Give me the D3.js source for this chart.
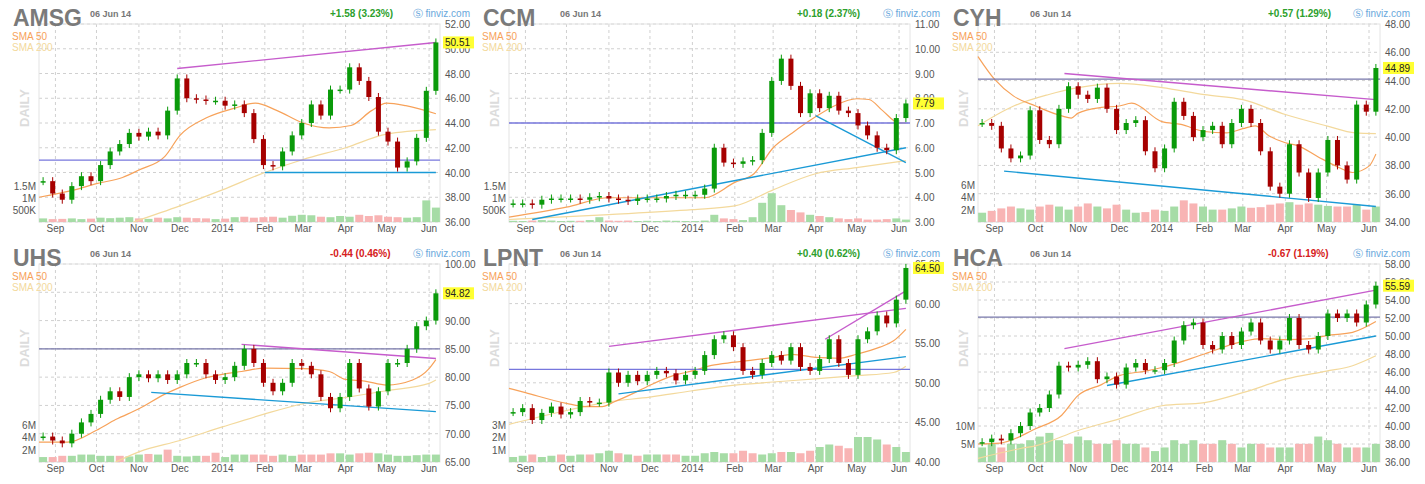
<!DOCTYPE html>
<html>
<head>
<meta charset="utf-8">
<script src="https://cdn.jsdelivr.net/npm/d3@7"></script>
<style>
  body { margin: 0; background: #fff; }
  svg text { font-family: Arial, "Liberation Sans", sans-serif; }
</style>
</head>
<body>
<div id="d3-container"></div>
<script>
// weeks (Friday closes)
var weeks = ['2013-08-23','2013-08-30','2013-09-06','2013-09-13','2013-09-20','2013-09-27',
  '2013-10-04','2013-10-11','2013-10-18','2013-10-25','2013-11-01','2013-11-08','2013-11-15',
  '2013-11-22','2013-11-29','2013-12-06','2013-12-13','2013-12-20','2013-12-27','2014-01-03',
  '2014-01-10','2014-01-17','2014-01-24','2014-01-31','2014-02-07','2014-02-14','2014-02-21',
  '2014-02-28','2014-03-07','2014-03-14','2014-03-21','2014-03-28','2014-04-04','2014-04-11',
  '2014-04-18','2014-04-25','2014-05-02','2014-05-09','2014-05-16','2014-05-23','2014-05-30','2014-06-06'];
var monthTicks = ['2013-09-01','2013-10-01','2013-11-01','2013-12-01','2014-01-01','2014-02-01',
  '2014-03-01','2014-04-01','2014-05-01','2014-06-01'];
var monthLabels = ['Sep','Oct','Nov','Dec','2014','Feb','Mar','Apr','May','Jun'];

var amsgClose = [39.3,38.3,37.8,38.9,39.7,39.3,40.6,41.7,42.3,43.2,42.9,43.3,43.0,45.0,47.6,46.0,45.9,45.8,45.8,45.4,
  45.5,44.8,42.7,40.6,40.5,41.7,43.0,44.0,45.5,44.6,46.7,46.7,48.5,47.4,46.1,43.3,42.5,40.4,40.9,42.8,46.6,50.51];
var amsgVol = [150,120,130,150,120,140,180,160,180,200,150,130,180,150,200,180,160,150,120,140,200,220,180,200,220,
  180,260,300,280,220,200,250,220,300,250,280,220,200,180,200,900,600];
var amsgSma50 = [['2013-08-20',38.0],['2013-09-15',38.6],['2013-10-01',39.1],['2013-10-20',39.6],['2013-11-01',40.2],
  ['2013-11-20',41.3],['2013-12-01',43.0],['2013-12-20',44.4],['2014-01-10',45.2],['2014-01-25',45.6],['2014-02-10',45.0],
  ['2014-03-01',44.0],['2014-03-20',43.6],['2014-04-05',43.8],['2014-04-20',45.0],['2014-05-01',45.6],['2014-05-15',45.4],
  ['2014-06-06',44.75]];
var amsgSma200 = [['2013-10-28',36.0],['2013-12-01',37.3],['2014-01-01',38.6],['2014-02-01',40.0],['2014-03-01',41.05],
  ['2014-04-01',42.0],['2014-05-01',43.1],['2014-06-06',43.46]];
var amsgLines = [
  {c:'#7777dd', p:[['2013-08-20',41.0],['2014-06-09',41.0]]},
  {c:'#1a9ad6', p:[['2014-02-01',40.0],['2014-06-06',40.0]]},
  {c:'#c65ccc', p:[['2013-11-29',48.4],['2014-06-06',50.5]]}];

var ccmClose = [3.75,3.75,3.7,3.9,3.95,3.95,3.95,3.9,4.0,4.05,3.95,3.9,3.85,3.95,3.95,3.95,4.05,4.1,4.1,4.1,
  4.35,6.0,5.4,5.35,5.45,5.5,6.6,8.7,9.6,8.5,7.4,8.2,7.6,8.1,7.5,7.4,6.9,6.5,6.0,5.9,7.2,7.79];
var ccmVol = [50,40,60,80,60,40,50,50,80,200,60,50,60,40,50,40,60,50,40,40,60,300,150,120,80,200,800,1200,700,500,
  400,300,250,200,150,120,150,100,100,120,150,100];
var ccmSma50 = [['2013-08-20',3.2],['2013-10-01',3.6],['2013-11-01',3.98],['2013-12-01',3.98],['2014-01-10',3.98],
  ['2014-02-01',4.6],['2014-02-15',4.95],['2014-03-01',6.0],['2014-03-15',6.6],['2014-04-01',7.25],['2014-04-15',7.7],
  ['2014-05-01',7.98],['2014-05-10',7.95],['2014-05-20',7.5],['2014-06-01',7.0],['2014-06-06',7.0]];
var ccmSma200 = [['2013-08-20',3.1],['2013-11-01',3.3],['2014-01-01',3.5],['2014-02-01',3.65],['2014-03-01',4.3],
  ['2014-04-01',4.95],['2014-05-01',5.2],['2014-06-06',5.48]];
var ccmLines = [
  {c:'#7777dd', p:[['2013-08-20',7.0],['2014-06-09',7.0]]},
  {c:'#1a9ad6', p:[['2013-09-06',3.1],['2014-06-06',6.0]]},
  {c:'#1a9ad6', p:[['2014-04-01',7.3],['2014-06-06',5.4]]}];

var cyhClose = [41.0,40.8,39.2,38.5,38.7,41.9,39.8,39.5,42.0,43.6,43.0,42.7,43.5,42.0,40.5,41.0,41.2,39.0,37.8,39.2,
  42.5,41.5,40.0,40.5,40.8,39.5,41.0,42.0,41.0,39.0,36.5,36.0,39.5,37.5,35.7,37.5,39.8,38.0,37.0,42.3,41.8,44.89];
var cyhVol = [1.5,1.8,2.2,2.5,2.2,2.0,2.5,2.8,2.5,2.0,2.5,3.0,2.5,2.2,2.8,2.0,1.5,1.6,2.0,1.8,2.5,3.5,3.0,2.5,2.0,
  2.0,2.2,2.5,2.3,2.4,2.8,3.0,3.2,2.8,3.0,2.8,2.6,2.5,2.5,2.8,2.0,2.5];
var cyhSma50 = [['2013-08-20',45.7],['2013-09-01',44.1],['2013-09-15',42.9],['2013-10-01',42.2],['2013-10-20',41.5],
  ['2013-10-27',41.35],['2013-11-01',41.7],['2013-11-18',42.1],['2013-12-01',42.2],['2013-12-10',42.4],['2014-01-01',41.1],
  ['2014-01-15',40.9],['2014-02-01',40.4],['2014-02-17',40.3],['2014-03-01',40.6],['2014-03-10',40.8],['2014-03-20',40.1],
  ['2014-04-01',39.6],['2014-04-10',39.4],['2014-04-25',38.6],['2014-05-08',37.95],['2014-05-20',37.5],['2014-06-01',37.95],
  ['2014-06-06',38.8]];
var cyhSma200 = [['2013-08-20',40.8],['2013-09-15',42.2],['2013-10-10',43.0],['2013-11-01',43.5],['2013-12-01',43.8],
  ['2014-01-01',43.5],['2014-02-01',43.0],['2014-03-01',42.65],['2014-04-01',41.6],['2014-05-01',40.8],['2014-05-22',40.3],
  ['2014-06-06',40.25]];
var cyhLines = [
  {c:'#7777aa', p:[['2013-08-20',44.1],['2014-06-09',44.1]]},
  {c:'#1a9ad6', p:[['2013-09-08',37.6],['2014-06-06',35.1]]},
  {c:'#c65ccc', p:[['2013-10-22',44.5],['2014-06-06',42.65]]}];

var uhsClose = [69.5,68.8,68.3,70.0,72.0,73.5,76.0,77.5,76.5,80.0,80.5,79.8,80.5,79.5,80.5,82.5,82.5,80.5,79.5,80.0,
  82.0,85.0,82.5,79.0,77.5,79.0,82.5,82.0,80.5,76.5,74.5,76.5,82.5,78.0,74.8,77.5,82.5,82.5,85.0,89.0,90.0,94.82];
var uhsVol = [0.8,0.8,1.0,1.0,1.2,1.2,1.0,1.0,1.0,0.9,1.2,1.3,1.2,2.0,1.0,0.9,1.0,1.0,1.5,0.8,1.2,1.2,1.2,1.2,1.0,
  1.2,1.0,1.2,1.2,1.2,1.4,1.4,1.2,1.4,1.5,1.4,1.2,1.0,1.0,1.1,1.2,1.2];
var uhsSma50 = [['2013-08-20',68.5],['2013-09-10',68.5],['2013-10-01',70.6],['2013-10-15',72.5],['2013-11-01',74.4],
  ['2013-11-20',77.0],['2013-12-01',78.2],['2013-12-20',79.9],['2014-01-01',80.5],['2014-01-15',81.0],['2014-02-01',81.6],
  ['2014-03-01',81.5],['2014-03-20',81.0],['2014-04-01',79.6],['2014-04-15',79.3],['2014-05-01',78.6],['2014-05-20',79.5],
  ['2014-06-01',81.5],['2014-06-06',83.1]];
var uhsSma200 = [['2013-10-15',65.0],['2013-11-01',66.8],['2013-12-01',68.8],['2014-01-01',71.2],['2014-02-01',73.5],
  ['2014-03-01',75.3],['2014-04-01',76.4],['2014-05-01',77.6],['2014-06-01',78.9],['2014-06-06',79.5]];
var uhsLines = [
  {c:'#7777aa', p:[['2013-08-20',85.0],['2014-06-09',85.0]]},
  {c:'#1a9ad6', p:[['2013-11-10',77.3],['2014-06-06',73.9]]},
  {c:'#c65ccc', p:[['2014-01-15',85.8],['2014-06-06',83.3]]}];

var lpntClose = [46.3,46.8,45.3,46.2,47.0,46.0,46.3,47.7,47.5,47.5,51.3,50.0,51.0,50.2,51.0,51.5,51.2,50.3,51.0,51.5,
  53.5,55.5,56.0,54.5,51.5,51.0,52.5,53.5,52.8,54.5,52.0,51.5,53.0,55.5,52.5,51.0,55.5,56.5,58.5,57.5,60.5,64.5];
var lpntVol = [0.4,0.5,0.6,0.4,0.5,0.6,0.5,0.6,0.6,0.7,0.9,0.7,0.6,0.5,0.6,0.6,0.6,0.6,0.5,0.5,0.7,0.8,0.7,0.7,0.9,
  0.7,0.6,0.7,0.8,0.8,0.7,0.9,1.2,1.4,1.3,1.1,2.0,2.0,1.8,1.4,1.2,0.8];
var lpntSma50 = [['2013-08-20',49.3],['2013-09-01',48.75],['2013-10-01',47.4],['2013-10-15',47.0],['2013-10-27',47.0],
  ['2013-11-05',47.6],['2013-11-18',48.6],['2013-12-01',49.7],['2013-12-18',50.9],['2014-01-01',51.5],['2014-01-15',52.2],
  ['2014-02-01',52.6],['2014-03-01',53.2],['2014-03-15',53.6],['2014-04-01',53.2],['2014-04-18',53.1],['2014-05-01',53.6],
  ['2014-05-18',54.5],['2014-05-28',55.3],['2014-06-06',56.75]];
var lpntSma200 = [['2013-08-20',44.75],['2013-10-01',46.5],['2013-11-01',47.6],['2013-12-01',48.2],['2014-01-01',49.0],
  ['2014-02-01',49.7],['2014-03-01',50.1],['2014-04-01',50.5],['2014-05-01',50.9],['2014-05-28',51.3],['2014-06-06',52.1]];
var lpntLines = [
  {c:'#7777dd', p:[['2013-08-20',51.7],['2014-06-09',51.7]]},
  {c:'#1a9ad6', p:[['2013-11-08',48.6],['2014-06-06',53.3]]},
  {c:'#c65ccc', p:[['2013-11-01',54.6],['2014-06-06',59.4]]},
  {c:'#c65ccc', p:[['2014-04-08',55.5],['2014-06-06',61.6]]}];

var hcaClose = [38.2,38.6,38.4,39.2,40.0,41.5,42.0,43.5,46.7,46.5,46.8,47.2,45.2,45.5,44.6,46.5,47.0,46.2,46.2,47.0,
  49.5,51.2,51.5,49.0,48.5,50.0,49.0,50.5,51.5,49.5,48.5,49.5,52.0,49.0,48.5,50.0,52.5,52.0,52.5,51.5,53.5,55.59];
var hcaVol = [4,5,4,5,5,6,7,8,6,5,7,6,5,5,6,5,5,4,3,4,6,5,6,5,5,6,5,4,5,5,4,4,4,5,5,7,6,5,4,4,4,5];
var hcaSma50 = [['2013-08-20',38.0],['2013-09-05',38.1],['2013-10-01',39.7],['2013-10-20',41.2],['2013-11-01',43.4],
  ['2013-11-18',44.6],['2013-12-01',45.6],['2013-12-20',46.1],['2014-01-01',46.5],['2014-02-01',48.0],['2014-03-01',49.4],
  ['2014-03-15',49.7],['2014-04-01',49.6],['2014-04-20',49.7],['2014-05-01',50.05],['2014-05-20',50.4],['2014-06-06',51.6]];
var hcaSma200 = [['2013-08-20',36.4],['2013-09-20',37.5],['2013-10-01',37.8],['2013-11-01',39.5],['2013-12-01',40.8],
  ['2014-01-01',42.25],['2014-02-01',42.6],['2014-03-01',43.7],['2014-04-01',45.2],['2014-05-01',46.1],['2014-05-20',46.7],
  ['2014-06-06',47.8]];
var hcaLines = [
  {c:'#7777aa', p:[['2013-08-20',52.1],['2014-06-09',52.1]]},
  {c:'#1a9ad6', p:[['2013-11-22',44.5],['2014-06-06',50.0]]},
  {c:'#c65ccc', p:[['2013-10-22',48.6],['2014-06-06',55.1]]}];

var charts = [
  {sym:'AMSG', ox:0, oy:0, left:39, right:440, titleX:13, dateX:90, chg:'+1.58 (3.23%)', up:true, chgX:330,
   dom:[36,52], ticks:d3.range(36,53,2), fmt:'.2f', close:amsgClose, vol:amsgVol, volMax:2500,
   volTicks:[500,1000,1500], volLbl:['500K','1M','1.5M'], s50:amsgSma50, s200:amsgSma200, lines:amsgLines},
  {sym:'CCM', ox:475, oy:0, left:34, right:435, titleX:8, dateX:85, chg:'+0.18 (2.37%)', up:true, chgX:322,
   dom:[3,11], ticks:d3.range(3,12,1), fmt:'.2f', close:ccmClose, vol:ccmVol, volMax:2500,
   volTicks:[500,1000,1500], volLbl:['500K','1M','1.5M'], s50:ccmSma50, s200:ccmSma200, lines:ccmLines},
  {sym:'CYH', ox:950, oy:0, left:28, right:430, titleX:3, dateX:80, chg:'+0.57 (1.29%)', up:true, chgX:318,
   dom:[34,48], ticks:d3.range(34,49,2), fmt:'.2f', close:cyhClose, vol:cyhVol, volMax:9.7,
   volTicks:[2,4,6], volLbl:['2M','4M','6M'], s50:cyhSma50, s200:cyhSma200, lines:cyhLines},
  {sym:'UHS', ox:0, oy:240, left:39, right:440, titleX:13, dateX:90, chg:'-0.44 (0.46%)', up:false, chgX:330,
   dom:[65,100], ticks:d3.range(65,101,5), fmt:'.2f', close:uhsClose, vol:uhsVol, volMax:9.7,
   volTicks:[2,4,6], volLbl:['2M','4M','6M'], s50:uhsSma50, s200:uhsSma200, lines:uhsLines},
  {sym:'LPNT', ox:475, oy:240, left:34, right:435, titleX:8, dateX:85, chg:'+0.40 (0.62%)', up:true, chgX:322,
   dom:[40,65], ticks:d3.range(40,66,5), fmt:'.2f', close:lpntClose, vol:lpntVol, volMax:4.8,
   volTicks:[1,2,3], volLbl:['1M','2M','3M'], s50:lpntSma50, s200:lpntSma200, lines:lpntLines},
  {sym:'HCA', ox:950, oy:240, left:28, right:430, titleX:3, dateX:80, chg:'-0.67 (1.19%)', up:false, chgX:318,
   dom:[36,58], ticks:d3.range(36,59,2), fmt:'.2f', close:hcaClose, vol:hcaVol, volMax:16.5,
   volTicks:[5,10], volLbl:['5M','10M'], s50:hcaSma50, s200:hcaSma200, lines:hcaLines}
];

var svg = d3.select('#d3-container').append('svg').attr('width', 1425).attr('height', 484);
var parse = d3.timeParse('%Y-%m-%d');

charts.forEach(function(c) {
  var g = svg.append('g').attr('transform', 'translate(' + c.ox + ',' + c.oy + ')');
  var top = 24, bottom = 222;
  var x = d3.scaleTime().domain([parse('2013-08-20'), parse('2014-06-09')]).range([c.left, c.right]);
  var y = d3.scaleLinear().domain(c.dom).range([bottom, top]);
  var yv = d3.scaleLinear().domain([0, c.volMax]).range([bottom, bottom - 60]);

  // grid
  g.append('g').selectAll('line').data(c.ticks).enter().append('line')
    .attr('x1', c.left).attr('x2', c.right).attr('y1', d => y(d)).attr('y2', d => y(d))
    .style('stroke', '#d0d0d0').style('stroke-dasharray', '3,3');
  g.append('g').selectAll('line').data(monthTicks).enter().append('line')
    .attr('x1', d => x(parse(d))).attr('x2', d => x(parse(d))).attr('y1', top).attr('y2', bottom)
    .style('stroke', '#d0d0d0').style('stroke-dasharray', '3,3');
  g.append('rect').attr('x', c.left).attr('y', top).attr('width', c.right - c.left).attr('height', bottom - top)
    .style('fill', 'none').style('stroke', '#e4e4e4');

  // price axis labels
  g.append('g').selectAll('text').data(c.ticks).enter().append('text')
    .attr('x', c.right + 5).attr('y', d => y(d) + 4).text(d => d3.format(c.fmt)(d))
    .style('font-size', '10px').style('fill', '#555');
  // month labels
  g.append('g').selectAll('text').data(monthTicks).enter().append('text')
    .attr('x', d => x(parse(d))).attr('y', 232).attr('text-anchor', 'middle')
    .text((d, i) => monthLabels[i]).style('font-size', '10px').style('fill', '#555');

  // volume
  g.append('g').selectAll('rect').data(c.vol).enter().append('rect')
    .attr('x', (d, i) => x(parse(weeks[i])) - 4).attr('width', 8)
    .attr('y', d => yv(d)).attr('height', d => bottom - yv(d))
    .style('fill', (d, i) => (i === 0 || c.close[i] >= c.close[i - 1]) ? '#a6dca6' : '#f8b4b4');
  g.append('g').selectAll('text').data(c.volTicks).enter().append('text')
    .attr('x', c.left - 3).attr('y', d => yv(d) + 4).attr('text-anchor', 'end')
    .text((d, i) => c.volLbl[i]).style('font-size', '10px').style('fill', '#555');

  // moving averages
  var line = d3.line().x(d => x(parse(d[0]))).y(d => y(d[1])).curve(d3.curveMonotoneX);
  g.append('path').attr('d', line(c.s200)).style('fill', 'none').style('stroke', '#f3d99c').style('stroke-width', 1.2);
  g.append('path').attr('d', line(c.s50)).style('fill', 'none').style('stroke', '#f7a25a').style('stroke-width', 1.2);

  // trend lines
  c.lines.forEach(function(l) {
    g.append('path').attr('d', d3.line().x(d => x(parse(d[0]))).y(d => y(d[1]))(l.p))
      .style('fill', 'none').style('stroke', l.c).style('stroke-width', 1.4);
  });

  // candles (open = previous close)
  var cg = g.append('g');
  c.close.forEach(function(v, i) {
    var o = i === 0 ? v : c.close[i - 1];
    var cx = x(parse(weeks[i]));
    var up = v >= o;
    var col = up ? '#0a9a0a' : '#a60000';
    var y1 = y(Math.max(o, v)), y2 = y(Math.min(o, v));
    cg.append('line').attr('x1', cx).attr('x2', cx).attr('y1', y1 - 4).attr('y2', y2 + 4)
      .style('stroke', col).style('stroke-width', 1);
    cg.append('rect').attr('x', cx - 2.5).attr('width', 5).attr('y', y1).attr('height', Math.max(1.5, y2 - y1))
      .style('fill', col);
  });

  // last price tag
  var last = c.close[c.close.length - 1];
  g.append('rect').attr('x', c.right + 3).attr('y', y(last) - 6).attr('width', 31).attr('height', 12).style('fill', '#ffff33');
  g.append('text').attr('x', c.right + 5).attr('y', y(last) + 4).text(d3.format('.2f')(last))
    .style('font-size', '10px').style('fill', '#222');

  // header texts
  g.append('text').attr('x', c.titleX).attr('y', 26).text(c.sym)
    .style('font-size', '23px').style('font-weight', 'bold').style('fill', '#7a7a7a');
  g.append('text').attr('x', c.dateX).attr('y', 17).text('06 Jun 14')
    .style('font-size', '9px').style('font-weight', 'bold').style('fill', '#777');
  g.append('text').attr('x', c.chgX).attr('y', 17).text(c.chg)
    .style('font-size', '10px').style('font-weight', 'bold').style('fill', c.up ? '#2ca02c' : '#d62020');
  g.append('text').attr('x', c.right + 30).attr('y', 17).attr('text-anchor', 'end').text('\u24c8 finviz.com')
    .style('font-size', '10px').style('fill', '#6aa8dc');
  g.append('text').attr('x', c.titleX - 1).attr('y', 40).text('SMA 50').style('font-size', '10px').style('fill', '#f7a25a');
  g.append('text').attr('x', c.titleX - 1).attr('y', 51).text('SMA 200').style('font-size', '10px').style('fill', '#f3d99c');
  g.append('text').attr('transform', 'translate(' + (c.left - 10) + ',108) rotate(-90)').attr('text-anchor', 'middle')
    .text('DAILY').style('font-size', '13px').style('font-weight', 'bold').style('fill', '#dcdcdc');
});
</script>
</body>
</html>
